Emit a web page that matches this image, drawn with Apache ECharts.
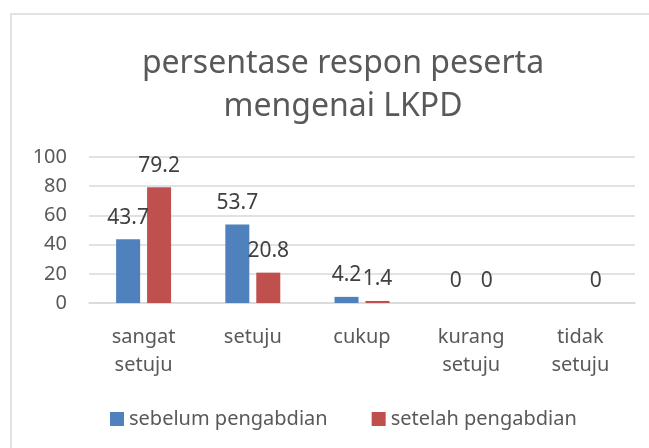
<!DOCTYPE html>
<html>
<head>
<meta charset="utf-8">
<script src="https://cdn.jsdelivr.net/npm/echarts@6/dist/echarts.min.js"></script>
<style>html,body{margin:0;padding:0;background:#fff}#c{width:649px;height:448px}</style>
</head>
<body>
<div id="c"></div>
<script>
const titleText = 'persentase respon peserta\nmengenai LKPD';
const categories = ['sangat\nsetuju', 'setuju', 'cukup', 'kurang\nsetuju', 'tidak\nsetuju'];
const seriesNames = ['sebelum pengabdian', 'setelah pengabdian'];
const sebelum = [43.7, 53.7, 4.2, 0, null];
const setelah = [79.2, 20.8, 1.4, 0, 0];
const yTicks = {min: 0, max: 100, interval: 20};

const FONT = 'Noto Sans';
const chart = echarts.init(document.getElementById('c'), null, {renderer: 'canvas'});
const labelCfg = {
  show: true, position: 'top', distance: 11,
  color: '#404040', fontFamily: FONT, fontSize: 21
};
chart.setOption({
  backgroundColor: '#fff',
  animation: false,
  graphic: [{
    type: 'rect', shape: {x: 11, y: 14, width: 700, height: 500},
    style: {fill: 'none', stroke: '#d9d9d9', lineWidth: 1.5}, silent: true, z: -1
  }],
  title: {
    text: titleText, left: 338, top: 37, textAlign: 'center',
    textStyle: {fontFamily: FONT, fontSize: 32, fontWeight: 'normal', color: '#595959', lineHeight: 43}
  },
  legend: {
    data: seriesNames, left: 105, top: 404, itemWidth: 14, itemHeight: 14, itemGap: 44,
    icon: 'rect',
    textStyle: {fontFamily: FONT, fontSize: 20, color: '#595959'}
  },
  grid: {left: 89, right: 14, top: 157, bottom: 145},
  xAxis: {
    type: 'category', data: categories,
    axisLine: {lineStyle: {color: '#d9d9d9', width: 1.5}},
    axisTick: {show: false},
    axisLabel: {fontFamily: FONT, fontSize: 20, color: '#595959', margin: 20, lineHeight: 28, interval: 0}
  },
  yAxis: {
    type: 'value', min: yTicks.min, max: yTicks.max, interval: yTicks.interval,
    axisLine: {show: false}, axisTick: {show: false},
    splitLine: {lineStyle: {color: '#d9d9d9', width: 1.5}},
    axisLabel: {fontFamily: FONT, fontSize: 20, color: '#595959', margin: 22}
  },
  series: [
    {name: seriesNames[0], type: 'bar', data: sebelum, itemStyle: {color: '#4F81BD'},
     barWidth: 24, barGap: '29%', label: labelCfg},
    {name: seriesNames[1], type: 'bar', data: setelah, itemStyle: {color: '#C0504D'},
     barWidth: 24, label: labelCfg}
  ]
});
</script>
</body>
</html>
